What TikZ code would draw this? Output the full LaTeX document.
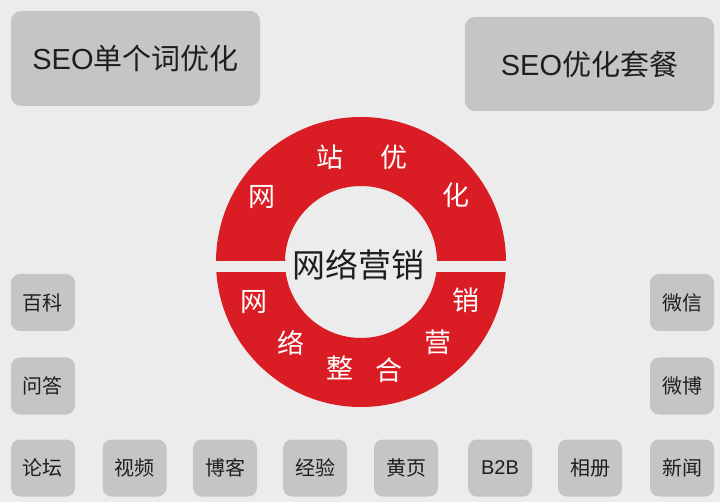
\documentclass[tikz,border=0pt]{standalone}
\usepackage{fontspec}
\setmainfont{Noto Sans CJK SC}
\newfontfamily\latinfont{Liberation Sans}
\definecolor{bggray}{RGB}{236,236,236}
\definecolor{boxgray}{RGB}{197,197,199}
\definecolor{ringred}{RGB}{218,28,36}
\definecolor{textdark}{RGB}{30,30,30}
\tikzset{
  tag/.style={fill=boxgray, rounded corners=9pt, minimum width=64pt, minimum height=57pt,
    inner sep=0pt, text=textdark, font=\fontsize{20}{20}\selectfont},
  bigtag/.style={fill=boxgray, rounded corners=10pt, minimum width=249pt, minimum height=95pt,
    inner sep=0pt, text=textdark, font=\fontsize{29}{29}\selectfont},
  ringchar/.style={text=white, inner sep=0pt, font=\fontsize{27}{27}\selectfont}
}
\begin{document}
\begin{tikzpicture}[x=1pt,y=-1pt]
   \fill[bggray] (0,0) rectangle (720,502);

   % ring
   \coordinate (c) at (361,262);
   \fill[ringred,even odd rule] (c) circle (145pt) (c) circle (76pt);
   \fill[bggray] (210,261) rectangle (512,272);
   \node[text=textdark, inner sep=0pt, font=\fontsize{33}{33}\selectfont] (center) at (358,265) {网络营销};

   \node[ringchar] (r1) at (262,197) {网};
   \node[ringchar] (r2) at (330,157) {站};
   \node[ringchar] (r3) at (394,157) {优};
   \node[ringchar] (r4) at (456,195) {化};

   \node[ringchar] (s1) at (254,302) {网};
   \node[ringchar] (s2) at (291,343) {络};
   \node[ringchar] (s3) at (340,368) {整};
   \node[ringchar] (s4) at (389,370) {合};
   \node[ringchar] (s5) at (438,342) {营};
   \node[ringchar] (s6) at (466,300) {销};

   % top boxes
   \node[bigtag] (seoword) at (135.5,58.5) {{\latinfont SEO}单个词优化};
   \node[bigtag, minimum height=94pt] (seopack) at (589.5,64) {{\latinfont SEO}优化套餐};

   % side columns
   \node[tag] (baike) at (43,302.5) {百科};
   \node[tag] (wenda) at (43,386) {问答};
   \node[tag] (weixin) at (682,302.5) {微信};
   \node[tag] (weibo) at (682,386) {微博};

   % bottom row
   \node[tag] (luntan) at (43,468) {论坛};
   \node[tag] (shipin) at (134.5,468) {视频};
   \node[tag] (boke) at (225,468) {博客};
   \node[tag] (jingyan) at (315,468) {经验};
   \node[tag] (huangye) at (406,468) {黄页};
   \node[tag] (btob) at (500,468) {\latinfont B2B};
   \node[tag] (xiangce) at (590,468) {相册};
   \node[tag] (xinwen) at (682,468) {新闻};
\end{tikzpicture}
\end{document}
